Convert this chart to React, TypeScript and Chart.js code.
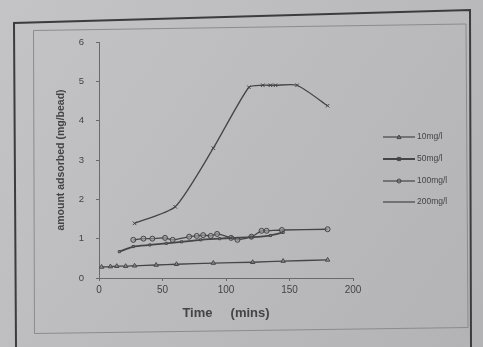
import React, { useEffect, useRef } from "react";
import { Chart, registerables } from "chart.js";

Chart.register(...registerables);

// ---- data ----
const seriesLabels = ["10mg/l", "50mg/l", "100mg/l", "200mg/l"];

const time10 = [2, 9, 14, 21, 28, 45, 61, 90, 121, 145, 180];
const amount10 = [0.28, 0.29, 0.3, 0.3, 0.31, 0.33, 0.35, 0.38, 0.4, 0.43, 0.46];

const time50 = [16, 27, 40, 53, 65, 80, 95, 105, 120, 135, 145];
const amount50 = [0.67, 0.8, 0.84, 0.88, 0.92, 0.97, 1.0, 1.02, 1.04, 1.08, 1.16];

const time100 = [27, 35, 42, 52, 58, 71, 77, 82, 88, 93, 104, 109, 120, 128, 132, 144, 180];
const amount100 = [0.97, 1.0, 1.0, 1.02, 0.97, 1.05, 1.07, 1.09, 1.07, 1.12, 1.02, 0.97, 1.05, 1.2, 1.2, 1.22, 1.24];

const time200 = [28, 60, 90, 118, 129, 135, 139, 156, 180];
const amount200 = [1.39, 1.81, 3.3, 4.85, 4.9, 4.9, 4.9, 4.9, 4.38];

const xTickValues = [0, 50, 100, 150, 200];
const yTickValues = [0, 1, 2, 3, 4, 5, 6];

const xTitle = "Time     (mins)";
const yTitle = "amount adsorbed (mg/bead)";

const markerStyles = ["triangle", "rect", "circle", "crossRot"];

const toPoints = (xs: number[], ys: number[]) => xs.map((x, i) => ({ x, y: ys[i] }));

const INK = "#454548";
const TEXT = "#444447";
const BG = "#bcbcbf";
const FONT = "'Liberation Sans', Arial, sans-serif";

const framePlugin = {
  id: "photoFrame",
  beforeDraw(chart: any) {
    const { ctx, width, height } = chart;
    ctx.save();
    const g = ctx.createLinearGradient(0, 0, width, height);
    g.addColorStop(0, "#c4c4c6");
    g.addColorStop(1, "#b3b3b6");
    ctx.fillStyle = g;
    ctx.fillRect(0, 0, width, height);
    // outer page border
    ctx.strokeStyle = "#3c3c3e";
    ctx.lineWidth = 2;
    ctx.beginPath();
    ctx.moveTo(16, height);
    ctx.lineTo(14, 23);
    ctx.lineTo(470, 10);
    ctx.lineTo(471, height);
    ctx.stroke();
    // inner chart border
    ctx.strokeStyle = "#8c8c90";
    ctx.lineWidth = 1;
    ctx.beginPath();
    ctx.moveTo(34.5, 333.5);
    ctx.lineTo(33.5, 30.5);
    ctx.lineTo(466, 24);
    ctx.lineTo(468, 327.5);
    ctx.closePath();
    ctx.stroke();
    ctx.restore();
  },
};

function drawMarker(ctx: CanvasRenderingContext2D, style: string, x: number, y: number, r: number) {
  ctx.beginPath();
  if (style === "triangle") {
    ctx.moveTo(x, y - r);
    ctx.lineTo(x + r, y + r * 0.8);
    ctx.lineTo(x - r, y + r * 0.8);
    ctx.closePath();
  } else if (style === "rect") {
    ctx.rect(x - r * 0.8, y - r * 0.8, r * 1.6, r * 1.6);
  } else if (style === "circle") {
    ctx.arc(x, y, r, 0, Math.PI * 2);
  } else {
    ctx.moveTo(x - r, y - r);
    ctx.lineTo(x + r, y + r);
    ctx.moveTo(x + r, y - r);
    ctx.lineTo(x - r, y + r);
  }
  ctx.stroke();
}

const legendPlugin = {
  id: "sideLegend",
  afterDraw(chart: any) {
    const { ctx } = chart;
    const ys = [137, 159, 181, 202];
    ctx.save();
    chart.data.datasets.forEach((ds: any, i: number) => {
      const y = ys[i];
      ctx.strokeStyle = INK;
      ctx.lineWidth = i === 1 ? 2 : 1.2;
      ctx.beginPath();
      ctx.moveTo(383, y);
      ctx.lineTo(415, y);
      ctx.stroke();
      if (i !== 3) {
        ctx.lineWidth = 1;
        drawMarker(ctx, ds.pointStyle, 399, y, 2);
      }
      ctx.fillStyle = TEXT;
      ctx.font = `8.5px ${FONT}`;
      ctx.textBaseline = "middle";
      ctx.textAlign = "left";
      ctx.fillText(ds.label, 417, y);
    });
    ctx.restore();
  },
};

export default function App() {
  const canvasRef = useRef<HTMLCanvasElement | null>(null);

  useEffect(() => {
    if (!canvasRef.current) return;
    const series = [
      toPoints(time10, amount10),
      toPoints(time50, amount50),
      toPoints(time100, amount100),
      toPoints(time200, amount200),
    ];
    const chart = new Chart(canvasRef.current, {
      type: "scatter",
      data: {
        datasets: series.map((pts, i) => ({
          label: seriesLabels[i],
          data: pts,
          showLine: true,
          borderColor: INK,
          backgroundColor: "rgba(120,120,124,0.6)",
          borderWidth: i === 1 ? 1.8 : 1.3,
          pointStyle: markerStyles[i],
          pointRadius: i === 1 ? 1.5 : 2.5,
          pointBorderColor: INK,
          pointBorderWidth: 1,
          pointBackgroundColor: "rgba(160,160,164,0.6)",
          tension: 0.2,
        })),
      },
      options: {
        animation: false,
        responsive: false,
        maintainAspectRatio: false,
        layout: { padding: { left: 55, right: 130, top: 42, bottom: 26 } },
        plugins: {
          legend: { display: false },
          tooltip: { enabled: false },
        },
        scales: {
          x: {
            type: "linear",
            min: 0,
            max: 200,
            afterBuildTicks: (scale: any) => {
              scale.ticks = xTickValues.map((v) => ({ value: v }));
            },
            afterFit: (scale: any) => {
              scale.height = 43;
            },
            ticks: {
              color: TEXT,
              font: { size: 10, family: FONT },
              padding: 3,
              maxRotation: 0,
            },
            grid: { display: true, drawOnChartArea: false, drawTicks: true, tickLength: 3, color: "#6a6a6e" },
            border: { display: true, color: "#6a6a6e", width: 1 },
            title: {
              display: true,
              text: xTitle,
              color: TEXT,
              font: { size: 13, weight: "bold", family: FONT },
              padding: { top: 2, bottom: 0 },
            },
          },
          y: {
            type: "linear",
            min: 0,
            max: 6,
            afterBuildTicks: (scale: any) => {
              scale.ticks = yTickValues.map((v) => ({ value: v }));
            },
            afterFit: (scale: any) => {
              scale.width = 44;
            },
            ticks: {
              color: TEXT,
              font: { size: 9.5, family: FONT },
              padding: 12,
            },
            grid: { display: true, drawOnChartArea: false, drawTicks: true, tickLength: 3, color: "#6a6a6e" },
            border: { display: true, color: "#6a6a6e", width: 1 },
            title: {
              display: true,
              text: yTitle,
              color: TEXT,
              font: { size: 10.5, weight: "bold", family: FONT },
              padding: { top: 0, bottom: 2 },
            },
          },
        },
      },
      plugins: [framePlugin, legendPlugin],
    } as any);
    return () => chart.destroy();
  }, []);

  return (
    <div style={{ position: "absolute", left: 0, top: 0, width: 483, height: 347, background: BG }}>
      <canvas
        ref={canvasRef}
        width={483}
        height={347}
        style={{ display: "block", width: 483, height: 347, filter: "blur(0.5px)" }}
      />
    </div>
  );
}
